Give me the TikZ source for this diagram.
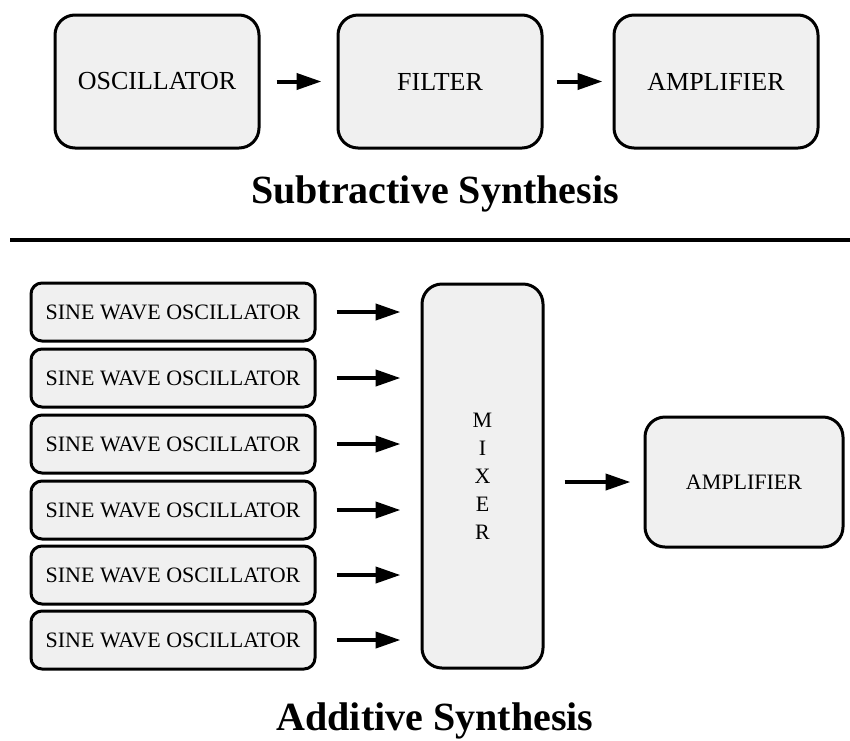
\documentclass[tikz,border=0pt]{standalone}
\usepackage{fontspec}
\setmainfont{Liberation Serif}
\usetikzlibrary{arrows.meta, positioning}
\definecolor{boxgray}{HTML}{F0F0F0}
\tikzset{
  block/.style={draw, line width=3pt, fill=boxgray, rounded corners=20pt, inner sep=0pt},
  sine/.style={block, rounded corners=11pt, minimum width=284pt, minimum height=58pt, font=\fontsize{22}{26}\selectfont},
  flow/.style={line width=4pt, -{Triangle[length=25pt, width=16pt]}},
  heading/.style={anchor=base, font=\fontsize{40}{46}\selectfont\bfseries}
}

\begin{document}
\begin{tikzpicture}[x=1pt, y=-1pt]
\useasboundingbox (0,0) rectangle (850,740);
\node[block, minimum width=204pt, minimum height=133pt, font=\fontsize{26}{30}\selectfont] (osc) at (157,81.5) {OSCILLATOR};
\node[block, minimum width=204pt, minimum height=133pt, font=\fontsize{26}{30}\selectfont] (filt) at (440,81.5) {FILTER};
\node[block, minimum width=204pt, minimum height=133pt, font=\fontsize{26}{30}\selectfont] (amp) at (716,81.5) {AMPLIFIER};
\draw[flow, shorten <=16pt, shorten >=15pt] (osc) -- (filt);
\draw[flow, shorten <=13pt, shorten >=10pt] (filt) -- (amp);
\node[heading] (sub) at (435,203) {Subtractive Synthesis};
\coordinate (rl) at (10,240);
\coordinate (rr) at (850,240);
\draw[line width=4pt] (rl) -- (rr);
\node[block, minimum width=121pt, minimum height=384pt, font=\fontsize{22}{28}\selectfont, align=center] (mix) at (482.5,476) {M\\I\\X\\E\\R};
\foreach \i/\y in {1/312,2/378,3/444,4/510,5/575,6/640}{
  \node[sine] (sine\i) at (173,\y) {SINE WAVE OSCILLATOR};
  \draw[flow, shorten <=20pt, shorten >=20pt] (sine\i.east) -- (sine\i.east -| mix.west);
}
\node[block, minimum width=198pt, minimum height=130pt, font=\fontsize{22}{26}\selectfont] (amp2) at (744,482) {AMPLIFIER};
\draw[flow, shorten <=20pt, shorten >=13pt] (mix.east |- amp2.west) -- (amp2.west);
\node[heading] (add) at (435,730) {Additive Synthesis};
\end{tikzpicture}
\end{document}
